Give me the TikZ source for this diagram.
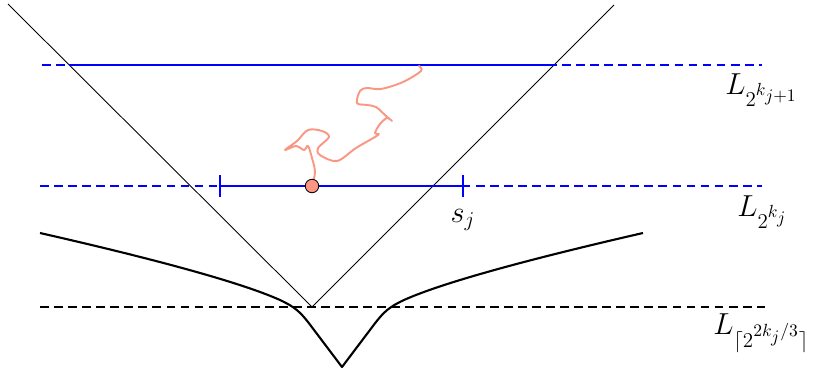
\documentclass[tikz,border=0pt]{standalone}
\usepackage{amsmath}
\usetikzlibrary{positioning,calc}

\definecolor{walk}{RGB}{250,150,130}

\begin{document}
\begin{tikzpicture}[
  x=0.02cm, y=-0.02cm,
  level/.style={dashed, dash pattern=on 5pt off 3pt, line width=0.65pt},
  cone/.style={line width=0.5pt},
  seg/.style={blue, line width=1.1pt},
  curve/.style={line width=1.2pt, line join=round},
  path/.style={walk, line width=1.1pt, line join=round, line cap=round},
  label/.style={font=\LARGE, inner sep=0pt}
]
\useasboundingbox (0,0) rectangle (816,372);

% cone
\coordinate (apex) at (312,307);
\coordinate (tl) at (8,4);
\coordinate (tr) at (614,5);
\draw[cone] (tl) -- (apex) -- (tr);

% levels
\coordinate (a1) at (42,65);  \coordinate (b1) at (762,65);
\coordinate (a2) at (40,186); \coordinate (b2) at (762,186);
\coordinate (a3) at (40,307); \coordinate (b3) at (765,307);
\draw[blue, level] (a1) -- (b1);
\draw[blue, level] (a2) -- (b2);
\draw[level] (a3) -- (b3);

% blue segments
\coordinate (u1) at (69,65);  \coordinate (u2) at (554,65);
\draw[seg] (u1) -- (u2);
\coordinate (m1) at (220,186); \coordinate (m2) at (463,186);
\draw[seg] (m1) -- (m2);
\draw[seg] ($(m1)+(0,-11)$) -- ($(m1)+(0,11)$);
\draw[seg] ($(m2)+(0,-11)$) -- ($(m2)+(0,11)$);

% lower curve
\draw[curve] (40,233) .. controls (150,258) and (240,282) .. (280,300)
  .. controls (295,307) and (300,312) .. (308,322) -- (342,367)
  -- (376,322) .. controls (384,312) and (389,307) .. (404,300)
  .. controls (444,282) and (534,258) .. (643,233);

% walk
\coordinate (start) at (312,186);
\draw[path] plot[smooth, tension=0.55] coordinates {(start) (315,172) (312,158) (308,146) (304,150)
  (296,146) (285,150) (297,141) (308,130) (322,131)
  (329,137) (318,148) (320,155) (337,161) (356,148)
  (378,135) (375,133) (380,124) (387,118) (392,121)
  (386,116) (376,107) (367,105) (357,103) (360,91)
  (367,88) (381,89) (403,82) (421,71) (419,66)};
\node[circle, draw, fill=walk, inner sep=0pt,
  minimum size=0.27cm, line width=0.5pt] (dot) at (start) {};

% labels
\node[label, anchor=base west] (Ltop) at (725,94) {$L_{2^{k_{j+1}}}$};
\node[label, anchor=base west] (Lmid) at (737,216) {$L_{2^{k_j}}$};
\node[label, anchor=base west] (Lbot) at (713,334) {$L_{\lceil 2^{2k_j/3}\rceil}$};
\node[label, below=13pt of m2] (sj) {$s_j$};
\end{tikzpicture}
\end{document}
